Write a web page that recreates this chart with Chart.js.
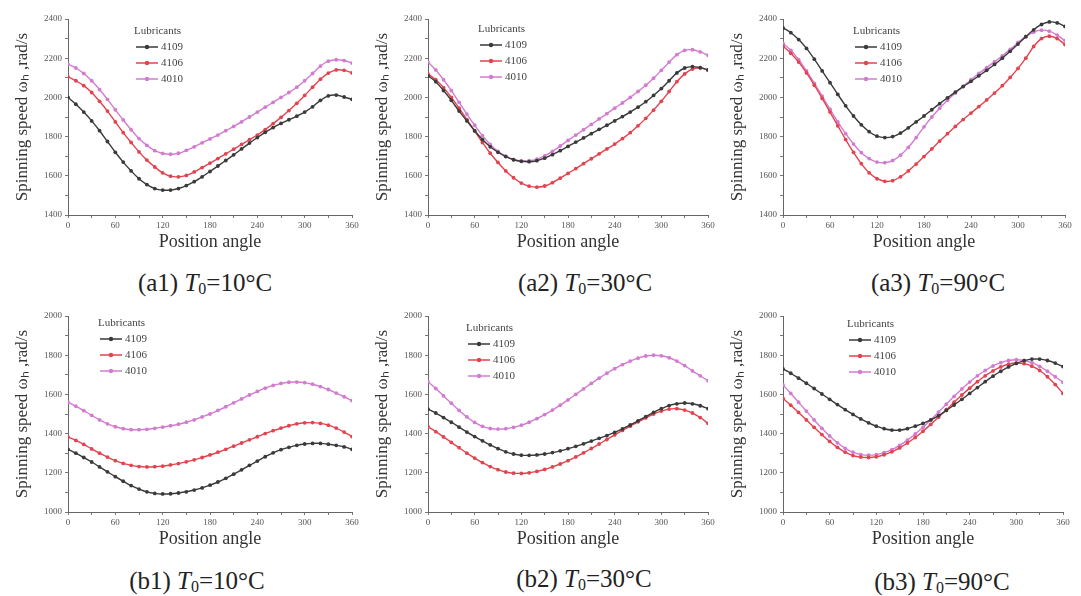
<!DOCTYPE html>
<html>
<head>
<meta charset="utf-8">
<script src="https://cdn.jsdelivr.net/npm/chart.js@4.4.1/dist/chart.umd.min.js"></script>
<style>
  html, body { margin: 0; padding: 0; background: #fff; }
  body { width: 1081px; height: 596px; position: relative; overflow: hidden; font-family: "Liberation Serif", serif; }
  .panel { position: absolute; }
  .caption { position: absolute; transform: translate(-50%, -50%); font-size: 25px; color: #222; white-space: nowrap; }
  .caption sub { font-size: 16px; vertical-align: -3px; }
</style>
</head>
<body>
<div class="panel" id="p-a1"><canvas id="c-a1"></canvas></div>
<div class="panel" id="p-a2"><canvas id="c-a2"></canvas></div>
<div class="panel" id="p-a3"><canvas id="c-a3"></canvas></div>
<div class="panel" id="p-b1"><canvas id="c-b1"></canvas></div>
<div class="panel" id="p-b2"><canvas id="c-b2"></canvas></div>
<div class="panel" id="p-b3"><canvas id="c-b3"></canvas></div>

<div class="caption" style="left:205px; top:283px">(a1) <i>T</i><sub>0</sub>=10°C</div>
<div class="caption" style="left:585px; top:283px">(a2) <i>T</i><sub>0</sub>=30°C</div>
<div class="caption" style="left:938px; top:283px">(a3) <i>T</i><sub>0</sub>=90°C</div>
<div class="caption" style="left:197px; top:581px">(b1) <i>T</i><sub>0</sub>=10°C</div>
<div class="caption" style="left:584px; top:579px">(b2) <i>T</i><sub>0</sub>=30°C</div>
<div class="caption" style="left:942px; top:582px">(b3) <i>T</i><sub>0</sub>=90°C</div>

<script>
/* =========================
   DATA
========================= */
const angles = [0, 10, 20, 30, 40, 50, 60, 70, 80, 90, 100, 110, 120, 130, 140, 150, 160, 170, 180,
  190, 200, 210, 220, 230, 240, 250, 260, 270, 280, 290, 300, 310, 320, 330, 340, 350, 360];
const lubricants = ["4109", "4106", "4010"];
const xTickLabels = [0, 60, 120, 180, 240, 300, 360];

// (a1) T0 = 10°C
const a1_4109 = [2000, 1965, 1925, 1880, 1830, 1775, 1720, 1670, 1625, 1585, 1555, 1535, 1527, 1527, 1535, 1550, 1570, 1595, 1622,
  1650, 1678, 1707, 1737, 1767, 1795, 1822, 1846, 1867, 1886, 1904, 1925, 1952, 1985, 2008, 2012, 2002, 1990];
const a1_4106 = [2105, 2085, 2060, 2025, 1980, 1930, 1875, 1820, 1770, 1722, 1680, 1645, 1615, 1598, 1595, 1602, 1620, 1642, 1665,
  1688, 1712, 1736, 1760, 1784, 1808, 1836, 1866, 1898, 1933, 1970, 2010, 2052, 2093, 2124, 2140, 2138, 2125];
const a1_4010 = [2170, 2150, 2122, 2085, 2040, 1990, 1937, 1885, 1835, 1790, 1755, 1728, 1714, 1710, 1715, 1730, 1748, 1768, 1788,
  1808, 1830, 1852, 1875, 1900, 1925, 1950, 1975, 2000, 2025, 2052, 2085, 2122, 2160, 2185, 2192, 2188, 2175];

// (a2) T0 = 30°C
const a2_4109 = [2110, 2080, 2035, 1985, 1930, 1880, 1830, 1785, 1748, 1720, 1698, 1682, 1674, 1672, 1677, 1690, 1708, 1728, 1750,
  1772, 1793, 1815, 1837, 1858, 1880, 1902, 1925, 1950, 1978, 2010, 2045, 2085, 2125, 2150, 2157, 2152, 2140];
const a2_4106 = [2120, 2090, 2050, 2000, 1945, 1887, 1828, 1770, 1715, 1668, 1625, 1590, 1563, 1547, 1542, 1548, 1565, 1588, 1612,
  1637, 1662, 1687, 1712, 1737, 1762, 1790, 1820, 1855, 1893, 1935, 1980, 2030, 2080, 2120, 2145, 2150, 2140];
const a2_4010 = [2180, 2140, 2090, 2035, 1975, 1915, 1858, 1805, 1760, 1725, 1700, 1683, 1676, 1677, 1685, 1702, 1725, 1752, 1780,
  1808, 1835, 1862, 1890, 1917, 1945, 1972, 2000, 2030, 2062, 2098, 2138, 2180, 2218, 2240, 2243, 2232, 2215];

// (a3) T0 = 90°C
const a3_4109 = [2355, 2330, 2295, 2250, 2195, 2135, 2075, 2015, 1957, 1905, 1860, 1825, 1802, 1795, 1800, 1818, 1845, 1875, 1905,
  1937, 1968, 1998, 2027, 2055, 2082, 2110, 2138, 2168, 2200, 2235, 2272, 2310, 2345, 2372, 2385, 2380, 2362];
const a3_4106 = [2262, 2225, 2180, 2125, 2062, 1995, 1925, 1855, 1785, 1720, 1662, 1615, 1585, 1572, 1575, 1595, 1625, 1660, 1698,
  1737, 1777, 1815, 1852, 1887, 1920, 1953, 1987, 2022, 2060, 2102, 2148, 2200, 2260, 2300, 2312, 2300, 2270];
const a3_4010 = [2275, 2240, 2192, 2135, 2072, 2007, 1940, 1875, 1815, 1762, 1718, 1688, 1670, 1667, 1678, 1705, 1745, 1795, 1850,
  1900, 1945, 1985, 2022, 2057, 2090, 2122, 2152, 2182, 2212, 2245, 2280, 2310, 2333, 2343, 2338, 2318, 2290];

// (b1) T0 = 10°C
const b1_4109 = [1320, 1300, 1278, 1255, 1230, 1205, 1180, 1157, 1135, 1117, 1103, 1095, 1092, 1093, 1097, 1103, 1112, 1123, 1137,
  1153, 1172, 1193, 1215, 1238, 1260, 1282, 1302, 1318, 1330, 1340, 1347, 1350, 1350, 1346, 1340, 1332, 1320];
const b1_4106 = [1383, 1365, 1345, 1322, 1300, 1280, 1262, 1248, 1238, 1232, 1230, 1231, 1234, 1240, 1247, 1256, 1266, 1278, 1291,
  1305, 1320, 1336, 1352, 1368, 1384, 1400, 1415, 1428, 1440, 1450, 1455, 1456, 1452, 1443, 1428, 1408, 1385];
const b1_4010 = [1560, 1540, 1517, 1493, 1470, 1450, 1435, 1425, 1420, 1420, 1422, 1427, 1433, 1440, 1448, 1458, 1470, 1485, 1500,
  1518, 1537, 1557, 1577, 1597, 1615, 1632, 1646, 1656, 1662, 1663, 1660, 1652, 1640, 1625, 1607, 1588, 1568];

// (b2) T0 = 30°C
const b2_4109 = [1525, 1505, 1482, 1458, 1433, 1408, 1385, 1363, 1342, 1323, 1307, 1296, 1290, 1289, 1291, 1296, 1303, 1312, 1323,
  1335, 1348, 1362, 1376, 1390, 1406, 1424, 1444, 1465, 1487, 1508, 1527, 1543, 1552, 1556, 1552, 1542, 1527];
const b2_4106 = [1435, 1410, 1383, 1355, 1328, 1300, 1275, 1252, 1232, 1216, 1204, 1198, 1197, 1200, 1207, 1217, 1230, 1245, 1262,
  1281, 1302, 1324, 1347, 1370, 1393, 1416, 1438, 1460, 1480, 1500, 1515, 1525, 1527, 1520, 1505, 1482, 1452];
const b2_4010 = [1665, 1630, 1592, 1555, 1518, 1485, 1457, 1437, 1426, 1423, 1425, 1432, 1443, 1458, 1476, 1497, 1520, 1545, 1572,
  1600, 1628, 1656, 1683, 1708, 1731, 1752, 1770, 1785, 1796, 1800, 1797, 1787, 1770, 1747, 1720, 1695, 1670];

// (b3) T0 = 90°C
const b3_4109 = [1730, 1708, 1683, 1657, 1630, 1602, 1575, 1548, 1522, 1498, 1475, 1455, 1438, 1425, 1418, 1418, 1425, 1438, 1452,
  1470, 1492, 1518, 1546, 1575, 1605, 1635, 1665, 1693, 1718, 1740, 1758, 1772, 1780, 1780, 1773, 1760, 1742];
const b3_4106 = [1580, 1545, 1508, 1470, 1432, 1395, 1360, 1330, 1305, 1288, 1280, 1278, 1282, 1292, 1307, 1327, 1352, 1380, 1412,
  1447, 1484, 1522, 1560, 1597, 1632, 1665, 1695, 1720, 1740, 1754, 1760, 1757, 1744, 1722, 1690, 1650, 1605];
const b3_4010 = [1648, 1605, 1560, 1515, 1470, 1427, 1388, 1353, 1325, 1305, 1293, 1290, 1293, 1303, 1318, 1340, 1367, 1398, 1432,
  1470, 1510, 1550, 1590, 1628, 1663, 1695, 1722, 1745, 1762, 1773, 1777, 1773, 1762, 1743, 1718, 1690, 1662];

/* =========================
   STYLE
========================= */
const colors = ["#3a3a3a", "#e2444f", "#d27cd0"];
const FONT = '"Liberation Serif", "Times New Roman", serif';

const panels = [
  { id: "a1", left: 0,   top: 0,   width: 360, height: 253, pad: { left: 12, top: 19, right: 8,  bottom: 0 }, yMin: 1400, yMax: 2400, series: [a1_4109, a1_4106, a1_4010], leg: { dx: 66, dy: 12 } },
  { id: "a2", left: 360, top: 0,   width: 360, height: 253, pad: { left: 12, top: 19, right: 12, bottom: 0 }, yMin: 1400, yMax: 2400, series: [a2_4109, a2_4106, a2_4010], leg: { dx: 50, dy: 10 } },
  { id: "a3", left: 720, top: 0,   width: 361, height: 253, pad: { left: 7,  top: 19, right: 16, bottom: 0 }, yMin: 1400, yMax: 2400, series: [a3_4109, a3_4106, a3_4010], leg: { dx: 70, dy: 12 } },
  { id: "b1", left: 0,   top: 298, width: 360, height: 252, pad: { left: 12, top: 18, right: 8,  bottom: 0 }, yMin: 1000, yMax: 2000, series: [b1_4109, b1_4106, b1_4010], leg: { dx: 30, dy: 7 } },
  { id: "b2", left: 360, top: 298, width: 360, height: 252, pad: { left: 12, top: 18, right: 12, bottom: 0 }, yMin: 1000, yMax: 2000, series: [b2_4109, b2_4106, b2_4010], leg: { dx: 38, dy: 12 } },
  { id: "b3", left: 720, top: 298, width: 361, height: 252, pad: { left: 7,  top: 18, right: 18, bottom: 0 }, yMin: 1000, yMax: 2000, series: [b3_4109, b3_4106, b3_4010], leg: { dx: 64, dy: 8 } }
];

/* =========================
   LEGEND (inside plot)
========================= */
const lubLegend = {
  id: "lubLegend",
  afterDraw(chart, args, opts) {
    const ctx = chart.ctx;
    const x0 = chart.chartArea.left + opts.dx;
    let y = chart.chartArea.top + opts.dy;
    ctx.save();
    ctx.font = "11px " + FONT;
    ctx.fillStyle = "#444";
    ctx.textBaseline = "middle";
    ctx.fillText("Lubricants", x0, y);
    chart.data.datasets.forEach(ds => {
      y += 16;
      ctx.strokeStyle = ds.borderColor;
      ctx.lineWidth = 1.5;
      ctx.beginPath();
      ctx.moveTo(x0 + 2, y);
      ctx.lineTo(x0 + 24, y);
      ctx.stroke();
      ctx.fillStyle = ds.borderColor;
      ctx.beginPath();
      ctx.arc(x0 + 13, y, 2.2, 0, Math.PI * 2);
      ctx.fill();
      ctx.fillStyle = "#444";
      ctx.fillText(ds.label, x0 + 27, y);
    });
    ctx.restore();
  }
};

/* =========================
   CHARTS
========================= */
panels.forEach(p => {
  const box = document.getElementById("p-" + p.id);
  box.style.left = p.left + "px";
  box.style.top = p.top + "px";
  box.style.width = p.width + "px";
  box.style.height = p.height + "px";

  new Chart(document.getElementById("c-" + p.id), {
    type: "line",
    data: {
      datasets: lubricants.map((name, i) => ({
        label: name,
        data: angles.map((a, k) => ({ x: a, y: p.series[i][k] })),
        borderColor: colors[i],
        backgroundColor: colors[i],
        borderWidth: 1.4,
        pointRadius: 1.9,
        pointBorderWidth: 0,
        tension: 0.35
      }))
    },
    options: {
      responsive: true,
      maintainAspectRatio: false,
      animation: false,
      layout: { padding: p.pad },
      plugins: {
        legend: { display: false },
        tooltip: { enabled: false },
        lubLegend: p.leg
      },
      scales: {
        x: {
          type: "linear",
          min: 0,
          max: 360,
          afterFit(scale) {
            scale.height = 38;
            scale.paddingLeft = 0;
            scale.paddingRight = 0;
          },
          ticks: {
            stepSize: 30,
            autoSkip: false,
            maxRotation: 0,
            padding: 2,
            color: "#555",
            font: { family: FONT, size: 9 },
            callback: v => (xTickLabels.includes(v) ? String(v) : "")
          },
          grid: { drawOnChartArea: false, tickLength: 3, color: "#777" },
          border: { color: "#666", width: 1 },
          title: {
            display: true,
            text: "Position angle",
            color: "#333",
            padding: 0,
            font: { family: FONT, size: 18 }
          }
        },
        y: {
          min: p.yMin,
          max: p.yMax,
          afterFit(scale) {
            scale.width = 56;
            scale.paddingTop = 0;
            scale.paddingBottom = 0;
          },
          ticks: {
            stepSize: 100,
            autoSkip: false,
            padding: 3,
            color: "#555",
            font: { family: FONT, size: 9 },
            callback: v => (v % 200 === 0 ? String(v) : "")
          },
          grid: { drawOnChartArea: false, tickLength: 3, color: "#777" },
          border: { color: "#666", width: 1 },
          title: {
            display: true,
            text: "Spinning speed ωₕ ,rad/s",
            color: "#333",
            padding: 0,
            font: { family: FONT, size: 17 }
          }
        }
      }
    },
    plugins: [lubLegend]
  });
});
</script>
</body>
</html>
